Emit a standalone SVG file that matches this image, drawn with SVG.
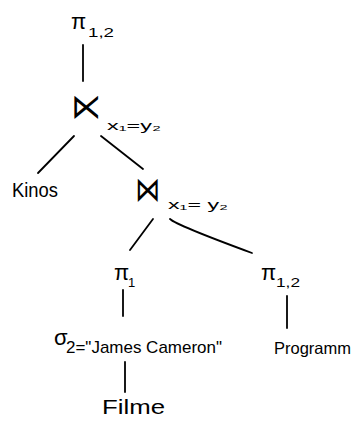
<svg xmlns="http://www.w3.org/2000/svg" width="353" height="422" viewBox="0 0 353 422">
<style>
text{font-family:"Liberation Sans","DejaVu Sans",sans-serif;fill:#000}
.m{font-size:22px}
.s{font-size:13px}
.l{font-size:20px}
.j{font-family:"DejaVu Sans",sans-serif;font-size:34px}
.e{stroke:#000;stroke-width:1.8;stroke-linecap:round;fill:none}
</style>
<rect width="353" height="422" fill="#fff"/>
<g id="proj-top">
<text class="m" x="71" y="29">π</text>
<text class="s" x="88" y="37" textLength="26" lengthAdjust="spacingAndGlyphs">1,2</text>
</g>
<g id="semijoin">
<text class="j" x="71" y="118" textLength="30" lengthAdjust="spacingAndGlyphs">⋉</text>
<text class="s" x="107" y="130" textLength="54" lengthAdjust="spacingAndGlyphs">x₁=y₂</text>
</g>
<g id="kinos">
<text class="l" x="12" y="197" textLength="46" lengthAdjust="spacingAndGlyphs">Kinos</text>
</g>
<g id="join">
<text class="j" x="135" y="201" textLength="25" lengthAdjust="spacingAndGlyphs">⋈</text>
<text class="s" x="168" y="209" textLength="60" lengthAdjust="spacingAndGlyphs">x₁= y₂</text>
</g>
<g id="proj-1">
<text class="m" x="114" y="280">π</text>
<text class="s" x="128" y="287">1</text>
</g>
<g id="proj-12">
<text class="m" x="261" y="280">π</text>
<text class="s" x="276" y="287" textLength="24" lengthAdjust="spacingAndGlyphs">1,2</text>
</g>
<g id="select">
<text class="m" x="54" y="345">σ</text>
<text x="66" y="353" font-size="17" textLength="156" lengthAdjust="spacingAndGlyphs">2="James Cameron"</text>
</g>
<g id="programm">
<text x="274" y="354" font-size="16.5">Programm</text>
</g>
<g id="filme">
<text class="l" x="102" y="414" font-size="22" textLength="63" lengthAdjust="spacingAndGlyphs">Filme</text>
</g>
<g id="edges">
<path class="e" d="M83 45 L83 81"/>
<path class="e" d="M74 136 L38 173"/>
<path class="e" d="M101 136 L143 169"/>
<path class="e" d="M153 219 L130 250"/>
<path class="e" d="M170 219 Q176 225 252 253"/>
<path class="e" d="M123 290 L123 316"/>
<path class="e" d="M287 296 L287 328"/>
<path class="e" d="M125 362 L125 392"/>
</g>
</svg>
